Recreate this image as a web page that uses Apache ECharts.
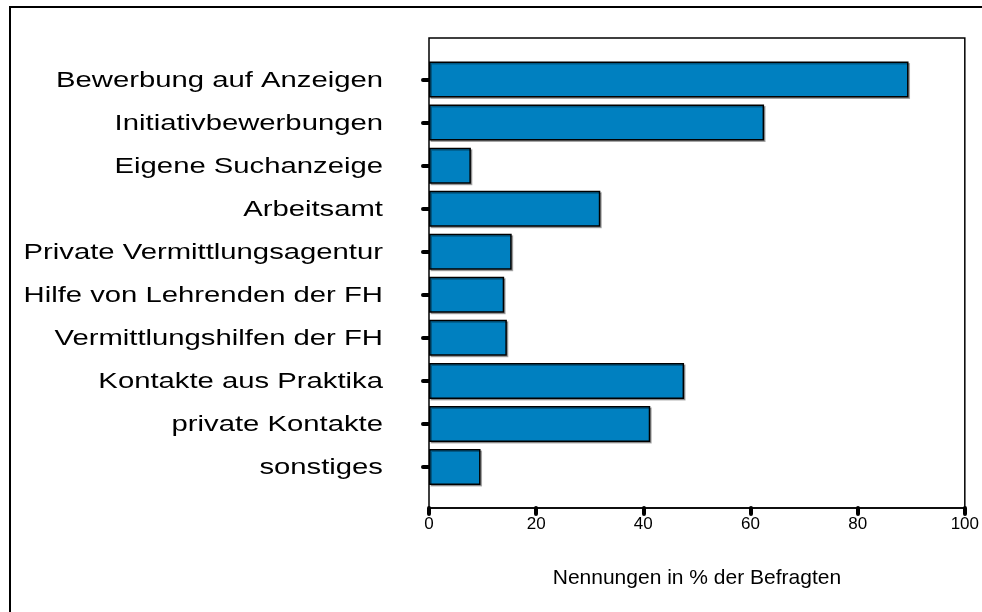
<!DOCTYPE html>
<html>
<head>
<meta charset="utf-8">
<script src="https://cdn.jsdelivr.net/npm/echarts@6/dist/echarts.min.js"></script>
<style>
html,body{margin:0;padding:0;background:#fff;}
#c{width:982px;height:612px;}
</style>
</head>
<body>
<div id="c"></div>
<script>
const categories = [
  'Bewerbung auf Anzeigen',
  'Initiativbewerbungen',
  'Eigene Suchanzeige',
  'Arbeitsamt',
  'Private Vermittlungsagentur',
  'Hilfe von Lehrenden der FH',
  'Vermittlungshilfen der FH',
  'Kontakte aus Praktika',
  'private Kontakte',
  'sonstiges'
];
const values = [89.3, 62.4, 7.8, 31.9, 15.4, 14.0, 14.5, 47.5, 41.2, 9.6];
const xTicks = [0, 20, 40, 60, 80, 100];
const xAxisTitle = 'Nennungen in % der Befragten';

const FONT = '"Liberation Sans", Arial, Helvetica, sans-serif';
const chart = echarts.init(document.getElementById('c'), null, {renderer: 'canvas'});

const option = {
  backgroundColor: '#ffffff',
  animation: false,
  graphic: [{
    type: 'rect',
    shape: {x: 10, y: 7, width: 1100, height: 800},
    style: {fill: 'none', stroke: '#000', lineWidth: 2},
    silent: true,
    z: 0
  }],
  grid: [
    {left: 429, right: 16, top: 38, height: 470, show: true, borderColor: '#000', borderWidth: 1.5, backgroundColor: 'transparent'},
    {left: 429, right: 16, top: 58, height: 430.5}
  ],
  xAxis: [
    {
      gridIndex: 0, type: 'value', min: xTicks[0], max: xTicks[xTicks.length - 1], interval: 20,
      axisLine: {show: true, lineStyle: {color: '#000', width: 1.5}},
      axisTick: {show: true, length: 6, lineStyle: {color: '#000', width: 4, cap: 'round'}},
      axisLabel: {show: true, color: '#000', fontSize: 17, fontFamily: FONT, margin: 8,
        formatter: v => xTicks.includes(v) ? String(v) : ''},
      splitLine: {show: false},
      name: xAxisTitle, nameLocation: 'middle', nameGap: 60,
      nameTextStyle: {color: '#000', fontSize: 21, fontFamily: FONT}
    },
    {
      gridIndex: 1, type: 'value', min: 0, max: 100, show: false
    }
  ],
  yAxis: [
    {gridIndex: 0, type: 'value', min: 0, max: 1, show: false},
    {
      gridIndex: 1, type: 'category', data: categories, inverse: true,
      axisLine: {show: false},
      axisTick: {show: true, alignWithLabel: true, length: 6, lineStyle: {color: '#000', width: 4, cap: 'round'}},
      axisLabel: {show: false},
      splitLine: {show: false}
    }
  ],
  series: [
    {
      type: 'bar', xAxisIndex: 1, yAxisIndex: 1,
      data: values, barWidth: 36,
      itemStyle: {color: '#0080C0', borderColor: '#000', borderWidth: 1.5,
        shadowColor: 'rgba(0,0,0,0.3)', shadowOffsetX: 1.5, shadowOffsetY: 1.5, shadowBlur: 0},
      z: 3
    },
    {
      type: 'custom', xAxisIndex: 1, yAxisIndex: 1, clip: false, silent: true,
      data: categories.map(c => [0, c]),
      renderItem: function (params, api) {
        const p = api.coord([0, api.value(1)]);
        return {
          type: 'text',
          x: 383, y: p[1] + 1,
          scaleX: 1.33,
          style: {
            text: categories[params.dataIndex],
            fontSize: 22, fontFamily: FONT, fill: '#000',
            align: 'right', verticalAlign: 'middle'
          }
        };
      }
    }
  ]
};
chart.setOption(option);
</script>
</body>
</html>
